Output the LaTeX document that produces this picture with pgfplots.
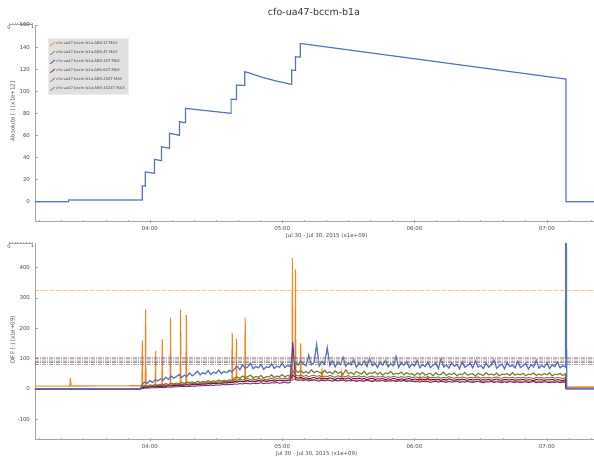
\documentclass[border=0pt]{standalone}
\usepackage{pgfplots}
\pgfplotsset{compat=1.18}
\usepackage{pgfplotstable}
\usepackage{fontspec}
\setmainfont{DejaVu Sans}

\definecolor{c1t}{RGB}{242,133,34}
\definecolor{c4t}{RGB}{125,115,100}
\definecolor{c16t}{RGB}{115,45,150}
\definecolor{c64t}{RGB}{125,15,40}
\definecolor{c256t}{RGB}{130,120,40}
\definecolor{c1024t}{RGB}{85,115,190}
\definecolor{axgray}{RGB}{165,165,165}
\definecolor{txtgray}{RGB}{75,75,75}

% DIFF panel: t (hours) and the 1024T, 256T, 4T, 64T, 16T series
\pgfplotstableread{
t B O G R P
3.132 0 0 0 0 -1
3.930 0 0 0 0 -1
3.94 14 8 6 4 1
3.96 22 10 7 5 2
3.98 18 9 7 5 2
4.00 27 13 9 6 3
4.02 21 11 10 7 3
4.04 30 14 9 6 4
4.06 26 12 11 8 3
4.08 33 15 10 7 5
4.10 28 13 12 9 4
4.12 38 17 11 8 5
4.14 31 14 13 10 6
4.16 42 18 12 9 5
4.18 35 16 14 11 7
4.20 40 19 13 10 6
4.22 47 17 15 12 7
4.24 37 21 14 11 8
4.26 45 18 16 12 7
4.28 41 22 15 13 8
4.30 52 20 16 12 8
4.32 43 23 18 14 9
4.34 49 19 17 13 8
4.36 58 25 19 15 10
4.38 46 21 18 14 9
4.40 53 24 20 16 11
4.42 49 22 19 15 10
4.44 60 27 21 17 11
4.46 47 23 20 16 12
4.48 55 26 22 18 11
4.50 51 24 21 17 13
4.52 62 29 23 19 12
4.54 50 25 22 18 13
4.56 57 28 24 20 14
4.58 53 26 23 19 13
4.60 61 30 25 21 15
4.62 56 27 24 20 14
4.64 66 36 30 24 16
4.66 74 39 28 22 15
4.68 63 34 32 26 17
4.70 79 42 29 23 16
4.72 68 37 31 25 18
4.74 72 40 34 27 17
4.76 85 45 30 24 16
4.78 66 36 33 26 19
4.80 74 41 29 23 17
4.82 69 38 35 28 18
4.84 80 44 31 25 20
4.86 64 35 33 27 17
4.88 73 40 30 24 19
4.90 70 39 32 26 18
4.92 82 46 35 28 20
4.94 67 37 31 25 19
4.96 75 42 34 27 21
4.98 71 40 36 29 18
5.00 84 47 32 26 20
5.02 70 39 35 28 22
5.04 77 44 33 27 19
5.06 73 41 37 30 21
5.08 95 127 60 45 155
5.10 88 62 46 38 30
5.12 78 54 42 35 28
5.14 92 60 45 37 29
5.16 82 52 41 34 27
5.18 76 57 44 36 30
5.20 111 51 40 33 26
5.22 79 63 43 35 28
5.24 86 53 45 37 29
5.26 147 58 41 34 27
5.28 75 55 43 36 25
5.30 90 50 39 32 28
5.32 81 61 42 35 26
5.34 136 52 40 33 29
5.36 77 56 44 36 27
5.38 93 49 41 34 25
5.40 72 59 38 31 28
5.42 88 51 43 35 26
5.44 80 55 40 33 27
5.46 104 48 42 34 29
5.48 74 62 39 32 25
5.50 86 50 44 36 27
5.52 79 54 38 31 26
5.54 97 47 41 34 28
5.56 71 57 40 33 24
5.58 84 52 43 35 27
5.60 78 49 39 32 26
5.62 92 58 41 34 25
5.64 73 46 37 30 28
5.66 101 53 40 33 26
5.68 76 51 42 35 24
5.70 85 56 38 31 27
5.72 70 48 40 33 25
5.74 89 54 39 32 26
5.76 78 45 41 34 28
5.78 95 52 37 30 24
5.80 72 50 40 33 26
5.82 83 57 38 31 25
5.84 76 47 41 34 27
5.86 107 51 39 32 24
5.88 71 49 37 30 26
5.90 86 55 40 33 25
5.92 77 46 38 31 27
5.94 90 53 39 32 24
5.96 70 48 41 34 26
5.98 82 50 37 30 25
6.00 75 44 39 32 23
6.02 94 52 38 31 24
6.04 69 47 36 29 22
6.06 80 54 39 32 25
6.08 73 45 37 30 23
6.10 88 49 40 33 24
6.12 70 51 36 29 21
6.14 78 43 38 31 23
6.16 84 53 37 30 25
6.18 67 46 39 32 22
6.20 99 48 35 28 24
6.22 72 55 38 31 23
6.24 79 44 36 29 21
6.26 68 50 40 33 24
6.28 86 47 37 30 22
6.30 74 52 35 28 23
6.32 81 43 38 31 25
6.34 66 49 36 29 21
6.36 90 46 39 32 23
6.38 71 54 37 30 22
6.40 77 45 35 28 24
6.42 84 48 38 31 22
6.44 69 50 36 29 21
6.46 93 42 37 30 23
6.48 72 51 39 32 24
6.50 76 47 35 28 22
6.52 67 44 37 30 20
6.54 85 53 36 29 23
6.56 71 46 38 31 22
6.58 79 49 35 28 24
6.60 96 45 37 30 21
6.62 68 52 39 32 23
6.64 75 43 36 29 22
6.66 82 48 35 28 20
6.68 66 47 38 31 23
6.70 87 50 37 30 21
6.72 73 44 36 29 24
6.74 78 53 38 31 22
6.76 69 45 35 28 21
6.78 91 49 37 30 23
6.80 70 46 36 29 20
6.82 76 51 38 31 22
6.84 83 43 35 28 23
6.86 65 48 37 30 21
6.88 80 47 36 29 22
6.90 72 52 34 27 24
6.92 94 44 38 31 20
6.94 68 49 36 29 22
6.96 77 45 37 30 21
6.98 71 50 35 28 23
7.00 85 46 37 30 22
7.02 67 53 36 29 20
7.04 79 43 38 31 22
7.06 73 48 35 28 21
7.08 88 47 37 30 23
7.10 69 51 36 29 20
7.12 76 44 34 27 22
7.14 72 49 37 30 21
7.145 900 1 1 1 0
7.150 0 1 1 1 0
7.356 0 1 1 1 0
}\difftable

\pgfplotsset{
  panel/.style={
    width=559bp, height=196bp, scale only axis,
    xmin=3.132, xmax=7.356,
    axis x line=bottom, axis y line=left,
    axis line style={axgray, line width=0.8bp, -},
    xtick={4,5,6,7}, xticklabels={04:00,05:00,06:00,07:00},
    minor xtick={3.1667,3.3333,3.5,3.6667,3.8333,4.1667,4.3333,4.5,4.6667,4.8333,
      5.1667,5.3333,5.5,5.6667,5.8333,6.1667,6.3333,6.5,6.6667,6.8333,7.1667,7.3333},
    tick style={axgray, line width=0.5bp},
    major tick length=3bp, minor tick length=2bp,
    x tick style={/pgfplots/tick align=center},
    y tick style={/pgfplots/tick align=inside},
    /pgf/number format/assume math mode=true,
    ticklabel style={font=\fontsize{5.5}{6}\selectfont, text=txtgray},
    label style={font=\fontsize{5.5}{6}\selectfont, text=txtgray},
    clip=true,
  },
  thr/.style={line width=1.4bp, opacity=0.5, dash pattern=on 4bp off 1bp on 1bp off 1bp},
}

\begin{document}
\begin{tikzpicture}
\path[use as bounding box] (0,0) rectangle (594bp,-457bp);

\node[font=\fontsize{9.5}{11}\selectfont, text=black!80] at (314bp,-12bp) {cfo-ua47-bccm-b1a};

% small range rulers at the top left of each panel
\foreach \yy in {24,243} {
  \draw[axgray, line width=0.5bp] (9bp,-\yy bp) -- (32bp,-\yy bp);
  \foreach \i in {0,...,8} \draw[axgray, line width=0.3bp] (9bp+2.875bp*\i,-\yy bp) -- ++(0,1bp);
  \node[font=\fontsize{5}{6}\selectfont, text=txtgray] at (9bp,-\yy bp-3.5bp) {0};
  \node[font=\fontsize{5}{6}\selectfont, text=txtgray] at (32.5bp,-\yy bp-2.5bp) {1};
}

% ---------------- top: absolute ----------------
\begin{axis}[panel,
  at={(35bp,-221bp)}, anchor=south west,
  ymin=-17.5, ymax=160,
  ytick={0,20,...,160},
  ylabel={Absolute [-] [x1e+12]},
  ylabel style={at={(axis description cs:-0.0394,0.56)}, anchor=center, rotate=0},
  xlabel={Jul 30 - Jul 30, 2015 (x1e+09)},
  xlabel style={at={(axis description cs:0.522,-0.0765)}, anchor=center},
  legend style={at={(axis description cs:0.023,0.934)}, anchor=north west,
    fill={rgb,255:red,224;green,224;blue,224}, draw={rgb,255:red,235;green,235;blue,235},
    font=\fontsize{3.8}{4.2}\selectfont, text=txtgray,
    row sep=2.4bp, inner xsep=2bp, inner ysep=2.5bp,
    nodes={inner sep=1.1bp}},
  legend cell align=left,
  legend image code/.code={\draw[#1, line width=0.7bp] (0bp,-1.8bp) -- (4.5bp,1.8bp);},
]
\addlegendimage{c1t}
\addlegendentry{cfo-ua47-bccm-b1a:ABS:1T MAX}
\addlegendimage{c4t}
\addlegendentry{cfo-ua47-bccm-b1a:ABS:4T MAX}
\addlegendimage{c16t}
\addlegendentry{cfo-ua47-bccm-b1a:ABS:16T MAX}
\addlegendimage{c64t}
\addlegendentry{cfo-ua47-bccm-b1a:ABS:64T MAX}
\addlegendimage{c256t}
\addlegendentry{cfo-ua47-bccm-b1a:ABS:256T MAX}
\addplot[c1024t, line width=1.2bp] coordinates {
  (3.132,0) (3.386,0) (3.386,1.5) (3.943,1.5) (3.943,14.2) (3.965,14.2)
  (3.965,26.9) (4.035,25.7) (4.035,38.4) (4.088,37.1) (4.088,49.8)
  (4.149,48.3) (4.149,61.9) (4.224,60.1) (4.224,72.4) (4.269,71.5)
  (4.269,84.5) (4.614,80) (4.614,92.9) (4.654,92.6) (4.654,105.6)
  (4.717,105.2) (4.717,117.6) (4.745,116.9) (4.773,115.6) (4.85,112.6)
  (4.95,109.4) (5.072,106.2) (5.072,119.2) (5.100,119) (5.100,131.2)
  (5.137,131) (5.137,143.3) (7.145,111) (7.145,0) (7.356,0)
};
\addlegendentry{cfo-ua47-bccm-b1a:ABS:1024T MAX}
\end{axis}

% ---------------- bottom: diff ----------------
\begin{axis}[panel,
  at={(35bp,-439.3bp)}, anchor=south west,
  ymin=-166.7, ymax=480,
  ytick={-100,0,100,200,300,400},
  ylabel={DIFF [-] [x1e+09]},
  ylabel style={at={(axis description cs:-0.0394,0.507)}, anchor=center, rotate=0},
  xlabel={Jul 30 - Jul 30, 2015 (x1e+09)},
  xlabel style={at={(axis description cs:0.504,-0.0765)}, anchor=center},
]
\addplot[c1t, line width=1.1bp] coordinates {
  (3.132,9) (3.395,9) (3.40,35) (3.405,9) (3.93,10) (3.940,11) (3.943,160) (3.946,10)
  (3.965,9) (3.968,262) (3.971,9) (4.00,8) (4.040,10) (4.043,125) (4.046,10)
  (4.091,11) (4.094,164) (4.097,11) (4.153,12) (4.156,235) (4.159,12) (4.20,13)
  (4.229,14) (4.232,260) (4.235,14) (4.272,15) (4.275,243) (4.278,15) (4.35,16)
  (4.45,17) (4.55,19) (4.619,21) (4.622,185) (4.625,22) (4.651,22) (4.654,165)
  (4.657,23) (4.717,24) (4.720,236) (4.723,24) (4.80,25) (4.90,26) (5.00,27)
  (5.074,28) (5.077,432) (5.080,30) (5.097,31) (5.100,394) (5.103,32) (5.137,32)
  (5.140,150) (5.143,32) (5.20,30) (5.29,29) (5.30,62) (5.31,29) (5.44,28) (5.45,55)
  (5.46,28) (5.70,27) (5.90,27) (6.03,26) (6.04,42) (6.05,26) (6.09,26) (6.10,40)
  (6.11,26) (6.40,25) (6.70,25) (7.00,24) (7.14,24) (7.145,6) (7.356,6)
};
\addplot[c4t, line width=1bp] table[x=t, y=G] {\difftable};
\addplot[c256t, line width=1.1bp] table[x=t, y=O] {\difftable};
\addplot[c64t, line width=1bp] table[x=t, y=R] {\difftable};
\addplot[c16t, line width=1bp] table[x=t, y=P] {\difftable};
\addplot[c1024t, line width=1.2bp] table[x=t, y=B] {\difftable};
% reference levels
\addplot[thr, c1t] coordinates {(3.132,325) (7.356,325)};
\addplot[thr, c64t!70] coordinates {(3.132,102) (7.356,102)};
\addplot[thr, c1024t!50] coordinates {(3.132,95) (7.356,95)};
\addplot[thr, c4t] coordinates {(3.132,89) (7.356,89)};
\addplot[thr, c256t] coordinates {(3.132,86) (7.356,86)};
\addplot[thr, c16t] coordinates {(3.132,81) (7.356,81)};
\end{axis}
\end{tikzpicture}
\end{document}
